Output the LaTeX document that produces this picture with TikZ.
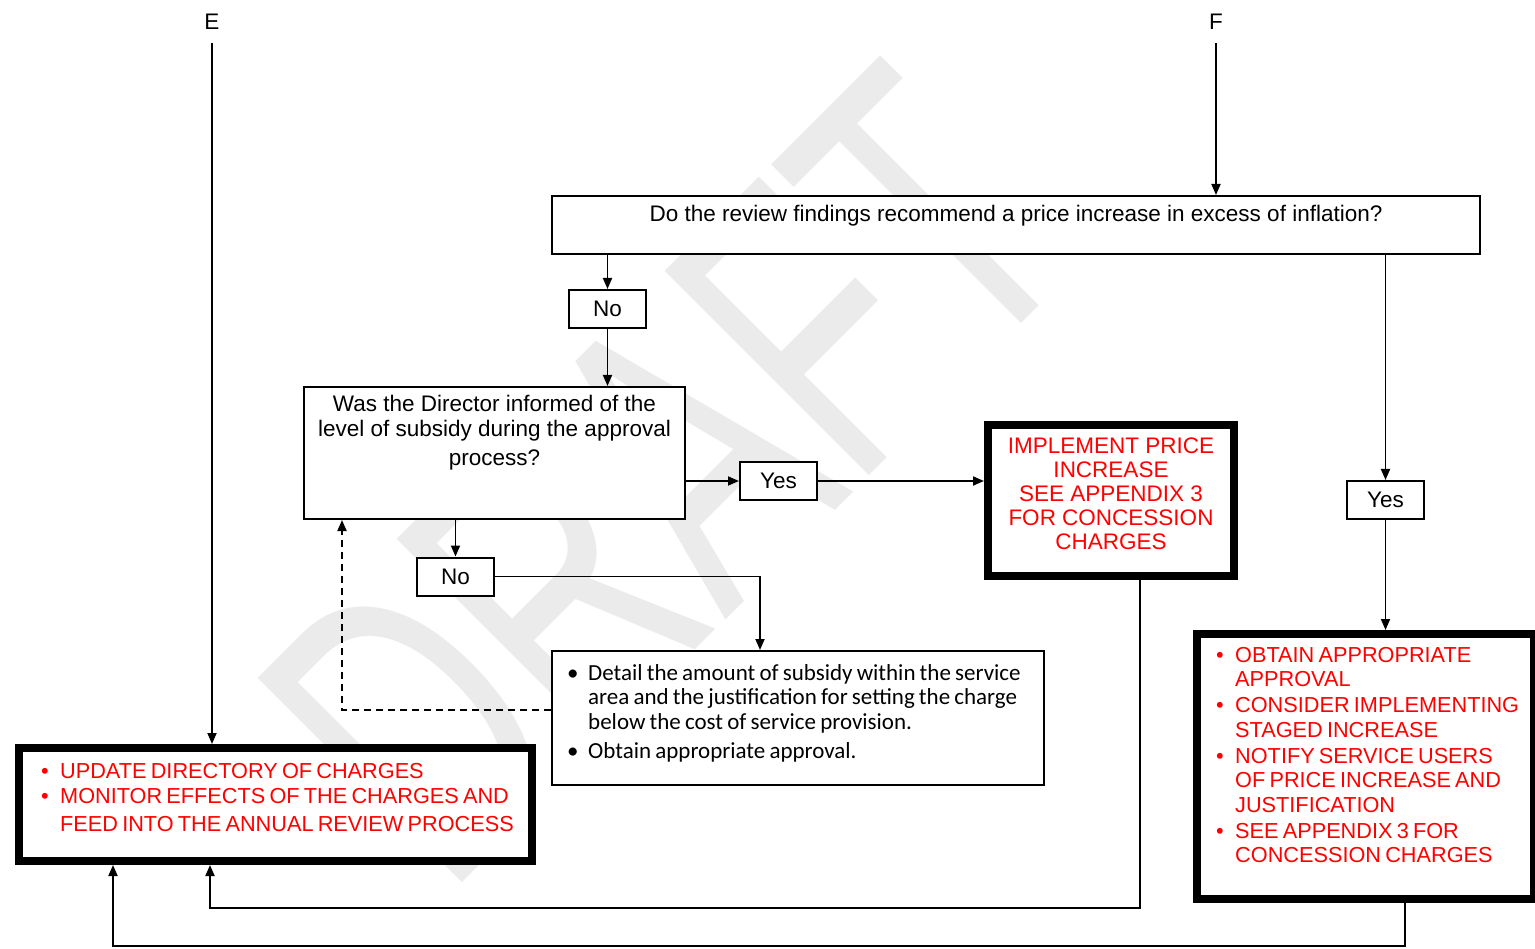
\documentclass[tikz,border=0pt]{standalone}
\usepackage{fontspec}
\setmainfont{Liberation Sans}
\newfontfamily\carlito{Carlito}
\usetikzlibrary{arrows.meta}
\definecolor{wmark}{RGB}{235,235,235}
\newlength\itmind
% bulleted item with hanging indent, closed by its own \par
\newcommand\itm[1]{\hangindent=\itmind\hangafter=1\noindent\makebox[\itmind][l]{\textbullet}#1\par}
% line break inside an item, with optional extra space below
\newcommand\brk[1][0pt]{\vadjust{\vskip#1}\hfil\break}
% narrower interword space for the bulleted boxes
\newcommand\narrowspace[1]{\spaceskip=#1\fontdimen2\font plus #1\fontdimen3\font minus #1\fontdimen4\font\relax}

\begin{document}
\begin{tikzpicture}[x=1pt,y=-1pt,
  font=\fontsize{22.5}{25}\selectfont,
  box/.style={draw, line width=2pt, fill=white, inner sep=0pt},
  heavy/.style={draw, line width=8pt, fill=white, inner sep=0pt},
  tag/.style={box, minimum width=77pt, minimum height=38pt},
  txt/.style={inner sep=0pt},
  redtxt/.style={txt, text=red},
  link/.style={line width=1.8pt, -{Triangle[length=11pt,width=9pt]}},
]
\useasboundingbox (0,0) rectangle (1535,949);

% watermark
\node[rotate=45, text=wmark, inner sep=0pt] (wm) at (666,475)
  {\fontsize{420}{420}\selectfont\scalebox{0.65}[1]{DRAFT}};

% boxes
\node[box, minimum width=928pt, minimum height=58pt] (q) at (1016,225) {};
\node[tag] (no1) at (607.5,309) {No};
\node[box, minimum width=381pt, minimum height=132pt] (dir) at (494.5,453) {};
\node[tag] (yes1) at (778.5,481) {Yes};
\node[heavy, minimum width=246pt, minimum height=151pt] (impl) at (1111,500.5) {};
\node[tag] (yes2) at (1385.5,500) {Yes};
\node[heavy, minimum width=337pt, minimum height=265pt] (rb) at (1365.5,766.5) {};
\node[tag] (no2) at (455.5,576.5) {No};
\node[box, minimum width=492pt, minimum height=134pt] (detail) at (798,718) {};
\node[heavy, minimum width=513pt, minimum height=113pt] (bl) at (275.5,804.5) {};

% entry labels
\node[txt] (E) at (212,22) {E};
\node[txt] (F) at (1216,22) {F};

% box texts
\node[txt, anchor=north] (qt) at ([yshift=-10pt]q.north)
  {Do the review findings recommend a price increase in excess of inflation?};
\node[txt, anchor=north, align=center] (dirt) at ([yshift=-9pt]dir.north)
  {Was the Director informed of the\\level of subsidy during the approval\\[4pt]process?};
\node[redtxt, anchor=north, align=center, font=\fontsize{22.5}{24}\selectfont] (implt)
  at ([yshift=-17pt]impl.north)
  {IMPLEMENT PRICE\\INCREASE\\SEE APPENDIX 3\\FOR CONCESSION\\CHARGES};
\node[txt, anchor=north west, text width=520pt, font=\carlito\fontsize{23}{24.5}\selectfont]
  (dett) at (567,664)
  {\narrowspace{0.8}\setlength\itmind{21pt}\setlength\parskip{4.5pt}\raggedright
   \itm{Detail the amount of subsidy within the service\brk area and the justification for setting the charge\brk below the cost of service provision.}%
   \itm{Obtain appropriate approval.}};
\node[redtxt, anchor=north west, text width=520pt, font=\fontsize{21.7}{25}\selectfont]
  (blt) at (41,763)
  {\narrowspace{0.7}\setlength\itmind{19pt}\setlength\parskip{0pt}\raggedright
   \itm{UPDATE DIRECTORY OF CHARGES}%
   \itm{MONITOR EFFECTS OF THE CHARGES AND\brk[3pt]FEED INTO THE ANNUAL REVIEW PROCESS}};
\node[redtxt, anchor=north west, text width=330pt, font=\fontsize{21.7}{24.3}\selectfont]
  (rbt) at (1216,647)
  {\narrowspace{0.7}\setlength\itmind{19pt}\setlength\parskip{2pt}\raggedright
   \itm{OBTAIN APPROPRIATE\brk APPROVAL}%
   \itm{CONSIDER IMPLEMENTING\brk STAGED INCREASE}%
   \itm{NOTIFY SERVICE USERS\brk OF PRICE INCREASE AND\brk JUSTIFICATION}%
   \itm{SEE APPENDIX 3 FOR\brk CONCESSION CHARGES}};

% connectors
\draw[link] ([yshift=-13pt]E.south) -- (E.south |- bl.north);
\draw[link] ([yshift=-13pt]F.south) -- (F.south |- q.north);
\draw[link] (no1.north |- q.south) -- (no1.north);
\draw[link] (no1.south) -- (no1.south |- dir.north);
\draw[link] (yes1.west -| dir.east) -- (yes1.west);
\draw[link] (yes1.east) -- (yes1.east -| impl.west);
\draw[link] (yes2.north |- q.south) -- (yes2.north);
\draw[link] (yes2.south) -- (yes2.south |- rb.north);
\draw[link] (no2.north |- dir.south) -- (no2.north);
\draw[link] (no2.east) -| ([xshift=-38pt]detail.north);
\draw[link, dash pattern=on 7pt off 5pt] ([yshift=8pt]detail.west) -| ([xshift=-152.5pt]dir.south);
\draw[link] ([xshift=29pt]impl.south) |- ([xshift=-65.5pt,yshift=-43pt]bl.south)
  -- ([xshift=-65.5pt]bl.south);
\draw[link] ([xshift=39.5pt]rb.south) |- ([xshift=-162.5pt,yshift=-81pt]bl.south)
  -- ([xshift=-162.5pt]bl.south);
\end{tikzpicture}
\end{document}
